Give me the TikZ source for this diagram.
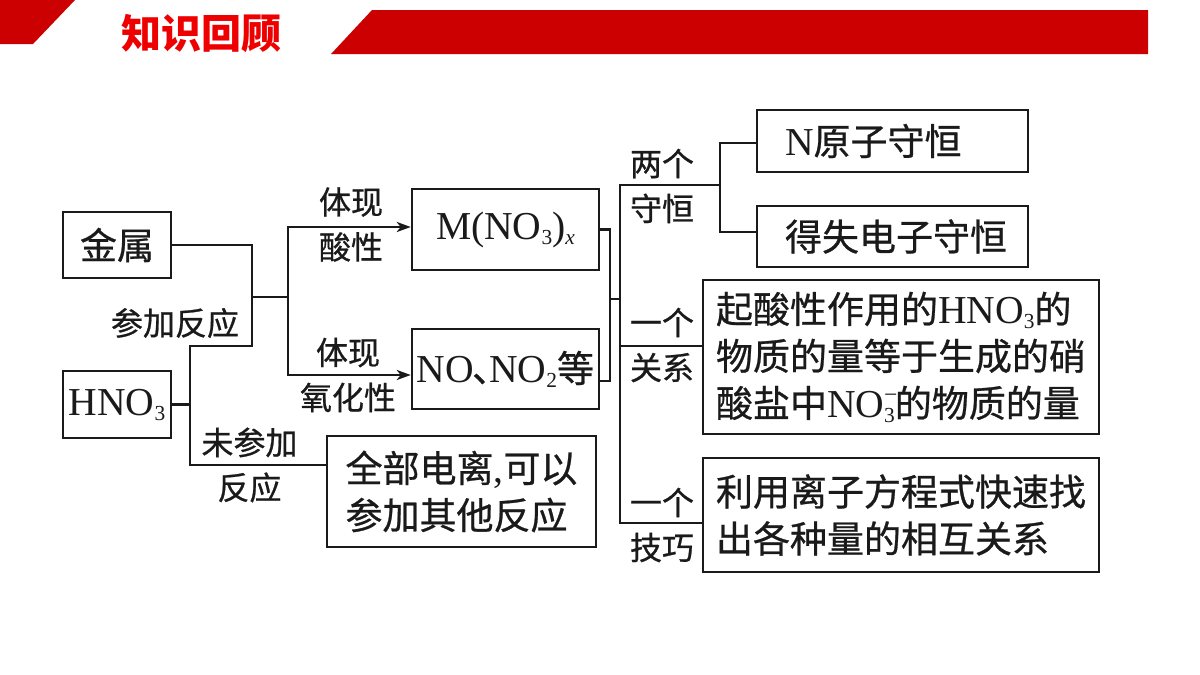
\documentclass[tikz,border=0pt]{standalone}
\usepackage{fontspec}
\setmainfont{Noto Sans CJK SC}[UprightFeatures={FakeBold=0.7}]
\newfontfamily\tm{Liberation Serif}[Scale=1.07]
\usetikzlibrary{arrows.meta}
\definecolor{hdred}{HTML}{CC0000}
\definecolor{ttred}{HTML}{EE0000}
\definecolor{ink}{HTML}{1A1A1A}
\newcommand\dn[1]{\raisebox{-5pt}{\fontsize{20}{20}\selectfont #1}}
\newcommand\ionm[1]{\rlap{\raisebox{15pt}{\fontsize{22}{22}\selectfont −}}\raisebox{-5pt}{\fontsize{20}{20}\selectfont #1}}
\begin{document}
\begin{tikzpicture}[x=1pt,y=-1pt,
 line/.style={draw=ink,line width=2.5pt,line join=miter},
 box/.style={draw=ink,line width=2.5pt,inner sep=0pt,text=ink},
 bigtext/.style={font=\fontsize{37}{47}\selectfont},
 lbl/.style={font=\fontsize{32}{45}\selectfont,align=center,text=ink,inner sep=0pt},
 tip/.style={line,{Stealth[length=14pt,width=10pt,inset=4pt]}-{Stealth[length=14pt,width=10pt,inset=4pt]}}]
\useasboundingbox (0,0) rectangle (1200,675);
\fill[white] (0,0) rectangle (1200,675);
% header
\fill[hdred] (0,0) -- (75,0) -- (33,44) -- (0,44) -- cycle;
\fill[hdred] (372,10) -- (1148,10) -- (1148,54) -- (331,54) -- cycle;
\node[text=ttred,inner sep=0pt,font=\fontsize{40}{40}\selectfont\bfseries] (title) at (201,34) {知识回顾};
% boxes
\node[box,bigtext,minimum width=108pt,minimum height=66pt] (metal) at (117,245) {金属};
\node[box,bigtext,minimum width=108pt,minimum height=67pt] (hno3) at (117,404.5) {\tm HNO\dn{3}};
\node[box,bigtext,minimum width=187pt,minimum height=81pt] (mno3) at (505.5,229.5) {\tm M(NO\dn{3})\dn{\itshape x}};
\node[box,bigtext,minimum width=187pt,minimum height=80pt] (nono2) at (505.5,369) {{\tm NO}\makebox[15pt][l]{\hspace{-2pt}、}{\tm NO\dn{2}}等};
\node[box,bigtext,minimum width=269pt,minimum height=111pt,align=left] (quanbu) at (461.5,491.5) {全部电离{\tm ,}可以\\参加其他反应};
\node[box,bigtext,text width=215pt,inner xsep=28pt,minimum height=62pt,align=left] (natom) at (892.5,141) {{\tm N}原子守恒};
\node[box,bigtext,text width=215pt,inner xsep=28pt,minimum height=61pt,align=left] (elec) at (892.5,236.5) {得失电子守恒};
\node[box,bigtext,minimum width=396pt,minimum height=154pt,align=left] (rel) at (901,357) {起酸性作用的{\tm HNO\dn{3}}的\\物质的量等于生成的硝\\酸盐中{\tm NO\ionm{3}}的物质的量};
\node[box,bigtext,minimum width=396pt,minimum height=114pt,align=left] (tech) at (901,515) {利用离子方程式快速找\\出各种量的相互关系};
% junction points
\coordinate (m1) at (252,245);
\coordinate (m2) at (252,346);
\coordinate (h1) at (190,346);
\coordinate (h3) at (190,465);
\coordinate (r1) at (252,297);
\coordinate (r2) at (288,297);
\coordinate (a1) at (288,227);
\coordinate (a2) at (288,375);
\coordinate (b1) at (610,229.5);
\coordinate (b2) at (610,381);
\coordinate (b3) at (610,299);
\coordinate (t1) at (620,185);
\coordinate (t2) at (620,346);
\coordinate (t3) at (620,299);
\coordinate (t4) at (620,523);
\coordinate (c0) at (720,185);
\coordinate (c1) at (720,143);
\coordinate (c2) at (720,232);
% connectors
\draw[line] (metal.east) -- (m1) -- (m2) -- (h1) -- (h3) -- (h3 -| quanbu.west);
\draw[line] (hno3.east) -- (hno3.east -| h1);
\draw[line] (r1) -- (r2);
\draw[tip] (a1 -| mno3.west) -- (a1) -- (a2) -- (a2 -| nono2.west);
\draw[line] (mno3.east) -- (b1) -- (b2) -- (b2 -| nono2.east);
\draw[line] (b3) -- (t3);
\draw[line] (c0) -- (t1) -- (t4) -- (t4 -| tech.west);
\draw[line] (t2) -- (t2 -| rel.west);
\draw[line] (c1 -| natom.west) -- (c1) -- (c2) -- (c2 -| elec.west);
% labels
\node[lbl] (l1) at (175,323) {参加反应};
\node[lbl] (l2) at (351,224.5) {体现\\酸性};
\node[lbl] (l3) at (348,375) {体现\\氧化性};
\node[lbl] (l4) at (249.5,465) {未参加\\反应};
\node[lbl] (l5) at (662,186) {两个\\守恒};
\node[lbl] (l6) at (662,345) {一个\\关系};
\node[lbl] (l7) at (662,525) {一个\\技巧};
\end{tikzpicture}
\end{document}
